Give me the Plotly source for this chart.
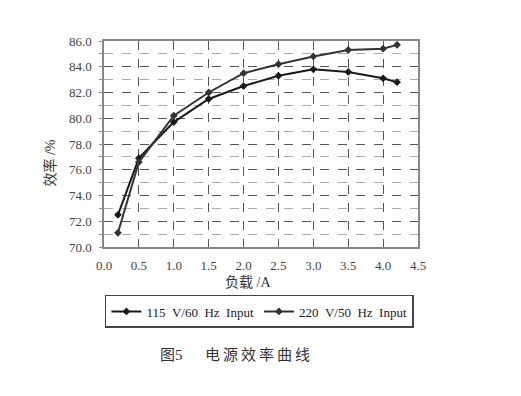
import plotly.graph_objects as go

load_a = [0.2, 0.5, 1.0, 1.5, 2.0, 2.5, 3.0, 3.5, 4.0, 4.2]
eff_115 = [72.5, 76.9, 79.7, 81.5, 82.5, 83.3, 83.8, 83.6, 83.1, 82.8]
eff_220 = [71.1, 76.6, 80.2, 82.0, 83.5, 84.2, 84.8, 85.3, 85.4, 85.7]
series_names = ["115\u2002V/60\u2002Hz\u2002Input", "220\u2002V/50\u2002Hz\u2002Input"]
caption = "图5\u2003\u2002" + "\u2009".join("电源效率曲线")

FONT = "Liberation Serif, Noto Sans CJK SC, serif"

fig = go.Figure()
fig.add_trace(go.Scatter(x=load_a, y=eff_115, name=series_names[0], mode="lines+markers",
                         line=dict(color="#1a1a1a", width=2),
                         marker=dict(symbol="diamond", size=6, color="#1a1a1a")))
fig.add_trace(go.Scatter(x=load_a, y=eff_220, name=series_names[1], mode="lines+markers",
                         line=dict(color="#333333", width=2),
                         marker=dict(symbol="diamond", size=6, color="#333333")))

fig.update_layout(
    width=521, height=396,
    margin=dict(l=104, r=103, t=41, b=149),
    paper_bgcolor="white", plot_bgcolor="white",
    font=dict(family=FONT, size=13, color="#333"),
    showlegend=True,
    legend=dict(orientation="h", x=0.495, xanchor="center", y=-0.233, yanchor="top",
                bordercolor="#444", borderwidth=1.5, font=dict(size=13, color="#222"),
                itemwidth=30, tracegroupgap=0),
    xaxis=dict(range=[0, 4.5], dtick=0.5, tick0=0, tickformat=".1f",
               showgrid=True, gridcolor="#555", griddash="dash", gridwidth=1,
               showline=True, linecolor="#888", linewidth=1.5, mirror=True,
               ticks="", ticklabelstandoff=6, zeroline=False,
               tickfont=dict(size=13, color="#444")),
    yaxis=dict(range=[70, 86], dtick=2, tick0=70, tickformat=".1f",
               showgrid=True, gridcolor="#555", griddash="dash", gridwidth=1,
               minor=dict(dtick=1, showgrid=True, gridcolor="#aaa", griddash="dash", gridwidth=1,
                          ticks="outside", ticklen=3, tickcolor="#888"),
               showline=True, linecolor="#888", linewidth=1.5, mirror=True,
               ticks="outside", ticklen=3, tickcolor="#888", ticklabelstandoff=5,
               zeroline=False, tickfont=dict(size=13, color="#444")),
    annotations=[
        dict(text="负载 /A", x=0.458, xref="paper", y=-0.172, yref="paper", yanchor="middle",
             showarrow=False, font=dict(size=14, color="#333")),
        dict(text="效率 /%", x=-0.172, xref="paper", xanchor="center", y=0.41, yref="paper",
             yanchor="middle",
             textangle=-90, showarrow=False, font=dict(size=14, color="#333")),
        dict(text=caption, x=0.417, xref="paper", y=-0.524, yref="paper", yanchor="middle",
             showarrow=False, font=dict(size=15, color="#333")),
    ],
)

fig.write_html("out.html", config={"displayModeBar": False},
               post_script="document.body.style.margin='0';")
